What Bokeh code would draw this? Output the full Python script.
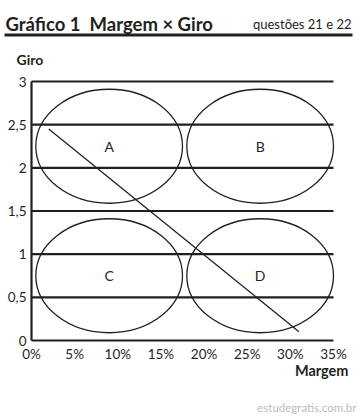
from bokeh.plotting import figure
from bokeh.models import Range1d
from bokeh.core.properties import value
from bokeh.embed import file_html
from bokeh.resources import INLINE

# ---- data ----
quadrants = ["A", "B", "C", "D"]
quad_margem = [9, 26.5, 9, 26.5]        # ellipse centre, Margem (%)
quad_giro = [2.25, 2.25, 0.75, 0.75]    # ellipse centre, Giro
quad_width = [17, 17, 17, 17]           # ellipse width (%)
quad_height = [1.32, 1.32, 1.32, 1.32]  # ellipse height (Giro)

line_margem = [2, 31]
line_giro = [2.45, 0.1]

x_ticks = [0, 5, 10, 15, 20, 25, 30, 35]
x_labels = ["0%", "5%", "10%", "15%", "20%", "25%", "30%", "35%"]
y_ticks = [0, 0.5, 1, 1.5, 2, 2.5, 3]
y_labels = ["0", "0,5", "1", "1,5", "2", "2,5", "3"]
grid_levels = [0.5, 1, 1.5, 2, 2.5, 3]
x_max = 35
y_max = 3

INK = "#231f20"
FONT = "Lato"

# ---- layout constants (pixels inside the figure) ----
W, H = 358, 417
LEFT, TOP = 31, 81          # plotting-area corner in figure px
PW, PH = 302, 259           # plotting area size in px
sx = PW / x_max             # px per % margem
sy = PH / y_max             # px per giro unit


def dx(px):                 # figure px -> data x
    return (px - LEFT) / sx


def dy(py):                 # figure px (from top) -> data y
    return (TOP + PH - py) / sy


p = figure(width=W, height=H, min_border=0,
           x_range=Range1d(dx(0), dx(W)), y_range=Range1d(dy(H), dy(0)),
           output_backend="svg", toolbar_location=None,
           background_fill_color="white", border_fill_color="white")
p.outline_line_color = None
p.axis.visible = False
p.grid.visible = False

# horizontal thick grid lines
p.segment(x0=[0] * len(grid_levels), x1=[x_max] * len(grid_levels),
          y0=grid_levels, y1=grid_levels, line_color=INK, line_width=2.2)
# axis lines
p.segment(x0=[0, 0], y0=[0, 0], x1=[0, x_max], y1=[y_max, 0],
          line_color=INK, line_width=2.2)

# tick labels
p.text(x=[0] * len(y_ticks), y=y_ticks, text=y_labels, x_offset=-5,
       text_align="right", text_baseline="middle", text_font=value(FONT),
       text_font_size="13.5px", text_color=INK)
p.text(x=x_ticks, y=[0] * len(x_ticks), text=x_labels, y_offset=5,
       text_align="center", text_baseline="top", text_font=value(FONT),
       text_font_size="13.5px", text_color=INK)

# ellipses
p.ellipse(x=quad_margem, y=quad_giro, width=quad_width, height=quad_height,
          fill_color=None, line_color=INK, line_width=1.3)
p.text(x=quad_margem, y=quad_giro, text=quadrants, text_align="center",
       text_baseline="middle", text_font=value(FONT), text_font_size="14px",
       text_color=INK)

# diagonal
p.line(line_margem, line_giro, line_color=INK, line_width=1.3)

# header
p.text(x=[dx(5)], y=[dy(23)], text=["Gráfico 1\u00a0 Margem × Giro"],
       text_font=value(FONT), text_font_style="bold", text_font_size="18.5px",
       text_color=INK, text_align="left", text_baseline="alphabetic")
p.text(x=[dx(351)], y=[dy(23)], text=["questões 21 e 22"],
       text_font=value(FONT), text_font_size="13px", text_color=INK,
       text_align="right", text_baseline="alphabetic")
p.quad(left=[dx(4)], right=[dx(352)], top=[dy(33)], bottom=[dy(36)],
       fill_color=INK, line_color=None)
p.text(x=[dx(16)], y=[dy(59)], text=["Giro"], text_font=value(FONT),
       text_font_style="bold", text_font_size="14px", text_color=INK,
       text_align="left", text_baseline="alphabetic")
p.text(x=[dx(348)], y=[dy(370)], text=["Margem"], text_font=value(FONT),
       text_font_style="bold", text_font_size="14.5px", text_color=INK,
       text_align="right", text_baseline="alphabetic")
p.text(x=[dx(356)], y=[dy(407)], text=["estudegratis.com.br"],
       text_font=value(FONT), text_font_size="11.5px", text_color="#bdbdbd",
       text_align="right", text_baseline="alphabetic")

open("out.html", "w").write(file_html(p, INLINE))
